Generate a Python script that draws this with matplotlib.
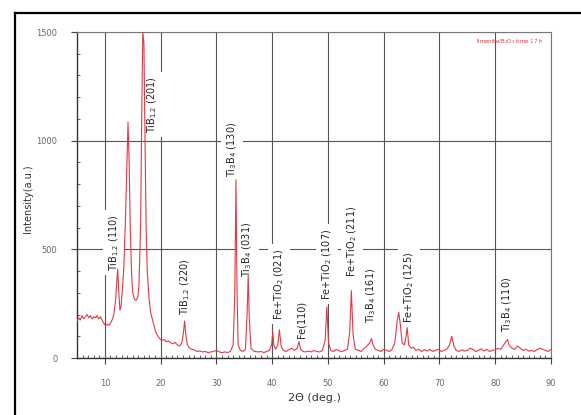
import numpy as np
import matplotlib
matplotlib.use('Agg')
from matplotlib import pyplot as plt
from matplotlib.lines import Line2D
from matplotlib.ticker import MultipleLocator

# 2theta / intensity
two_theta = [5.0, 5.3, 5.6, 5.9, 6.2, 6.5, 6.8, 7.1, 7.4, 7.7, 8.0, 8.3, 8.6, 8.9, 9.2, 9.5, 9.8,
             10.1, 10.4, 10.7, 11.0, 11.3, 11.6, 11.9, 12.1, 12.3, 12.5, 12.7, 12.9, 13.1, 13.4,
             13.7, 13.95, 14.15, 14.35, 14.55, 14.8, 15.0, 15.3, 15.6, 15.9, 16.1, 16.4, 16.6,
             16.8, 17.0, 17.2, 17.4, 17.6, 17.9, 18.2, 18.5, 18.8, 19.1, 19.4, 19.8, 20.2, 20.6,
             21.0, 21.4, 21.8, 22.2, 22.6, 23.0, 23.4, 23.8, 24.1, 24.3, 24.5, 24.8, 25.2, 25.6,
             26.0, 26.5, 27.0, 27.5, 28.0, 28.5, 29.0, 29.5, 30.0, 30.5, 31.0, 31.5, 32.0, 32.5,
             33.0, 33.3, 33.5, 33.7, 33.9, 34.3, 34.8, 35.2, 35.5, 35.7, 35.9, 36.2, 36.8, 37.5,
             38.0, 38.5, 39.0, 39.5, 39.9, 40.1, 40.3, 40.6, 41.0, 41.3, 41.6, 42.0, 42.5, 43.0,
             43.5, 44.0, 44.5, 44.8, 45.1, 45.5, 46.0, 46.5, 47.0, 47.5, 48.0, 48.5, 49.0, 49.5,
             49.8, 50.1, 50.5, 51.0, 51.5, 52.0, 52.5, 53.0, 53.5, 53.9, 54.2, 54.5, 54.9, 55.5,
             56.0, 56.5, 57.0, 57.5, 57.8, 58.1, 58.5, 59.0, 59.5, 60.0, 60.5, 61.0, 61.5, 62.0,
             62.4, 62.7, 63.0, 63.3, 63.7, 64.0, 64.2, 64.5, 64.9, 65.3, 65.8, 66.3, 66.8, 67.3,
             67.8, 68.3, 68.8, 69.3, 69.8, 70.3, 70.8, 71.3, 71.8, 72.2, 72.6, 73.0, 73.5, 74.0,
             74.5, 75.0, 75.5, 76.0, 76.5, 77.0, 77.5, 78.0, 78.5, 79.0, 79.5, 80.0, 80.5, 81.0,
             81.5, 81.9, 82.2, 82.5, 83.0, 83.5, 84.0, 84.5, 85.0, 85.5, 86.0, 86.5, 87.0, 87.5,
             88.0, 88.5, 89.0, 89.5, 90.0]
intensity = [170, 185, 175, 195, 180, 190, 200, 185, 195, 180, 190, 185, 195, 180, 190, 175, 160,
             150, 155, 150, 160, 175, 200, 260, 340, 410, 300, 220, 240, 300, 420,
             650, 900, 1085, 900, 600, 380, 300, 270, 265, 280, 330, 600, 1100,
             1500, 1450, 1000, 600, 400, 280, 210, 180, 150, 120, 105, 90, 80, 85,
             75, 78, 70, 65, 72, 60, 55, 70, 120, 170, 110, 60, 45, 40,
             38, 30, 32, 28, 30, 25, 28, 30, 35, 28, 25, 28, 25, 30,
             60, 300, 820, 300, 60, 35, 30, 40, 200, 380, 180, 45, 30, 28,
             30, 25, 30, 35, 60, 120, 60, 40, 60, 130, 55, 35, 30, 38,
             45, 35, 45, 75, 40, 30, 28, 32, 28, 35, 30, 28, 35, 80,
             235, 70, 35, 30, 40, 33, 30, 35, 40, 120, 310, 110, 40, 35,
             30, 45, 55, 70, 90, 60, 40, 35, 30, 40, 35, 30, 40, 70,
             170, 210, 150, 70, 60, 100, 140, 60, 45, 50, 35, 40, 30, 38,
             32, 40, 30, 35, 40, 30, 35, 40, 60, 100, 55, 35, 30, 38,
             32, 35, 45, 40, 30, 35, 42, 32, 40, 30, 35, 38, 45, 40,
             60, 75, 85, 60, 45, 40, 55, 45, 35, 40, 32, 35, 30, 38,
             45, 40, 35, 30, 40]

# peak labels: text, 2theta, bottom of label (intensity units)
peak_text = ['TiB$_{1.2}$ (110)', 'TiB$_{1.2}$ (201)', 'TiB$_{1.2}$ (220)', 'Ti$_3$B$_4$ (130)',
             'Ti$_3$B$_4$ (031)', 'Fe+TiO$_2$ (021)', 'Fe(110)', 'Fe+TiO$_2$ (107)',
             'Fe+TiO$_2$ (211)', 'Ti$_3$B$_4$ (161)', 'Fe+TiO$_2$ (125)', 'Ti$_3$B$_4$ (110)']
peak_x = [11.6, 18.4, 24.4, 32.8, 35.6, 41.3, 45.2, 49.8, 54.3, 57.8, 64.6, 82.2]
peak_y = [400, 1035, 200, 835, 375, 175, 92, 267, 375, 160, 160, 120]

fig = plt.figure(figsize=(5.81, 4.15), dpi=100)
ax = fig.add_axes([77/581, 1-358/415, 474/581, 326/415])

ax.plot(two_theta, intensity, color='#e23a44', lw=0.8, zorder=3)

for t, x, y in zip(peak_text, peak_x, peak_y):
    ax.text(x, y, t, rotation=90, ha='center', va='bottom', fontsize=7, color='#222222',
            bbox=dict(facecolor='white', edgecolor='none', pad=3), zorder=2)

ax.set_xlim(5, 90)
ax.set_ylim(0, 1500)
ax.xaxis.set_major_locator(MultipleLocator(10))
ax.xaxis.set_minor_locator(MultipleLocator(1))
ax.yaxis.set_major_locator(MultipleLocator(500))
ax.yaxis.set_minor_locator(MultipleLocator(100))
ax.tick_params(which='major', direction='out', length=4, color='#444444',
               labelsize=6, labelcolor='#666666')
ax.tick_params(axis='y', which='major', pad=10)
ax.tick_params(axis='x', which='major', pad=11)
ax.tick_params(which='minor', direction='in', length=2.5, color='#444444')
ax.grid(True, which='major', color='#555555', lw=0.8, zorder=0)
ax.set_axisbelow(True)
for s in ['left', 'bottom']:
    ax.spines[s].set_color('#333333')
    ax.spines[s].set_linewidth(1.0)
for s in ['top', 'right']:
    ax.spines[s].set_color('#777777')
    ax.spines[s].set_linewidth(0.8)

ax.set_ylabel('Intensity(a.u.)', fontsize=7, color='#333333')
ax.yaxis.set_label_coords(-(77-33)/474, 0.49)
ax.set_xlabel('2Θ (deg.)', fontsize=8, color='#333333')
ax.xaxis.set_label_coords(0.5, -(393-358)/326)

ax.text(0.985, 0.985, 'Ilmenite/B$_2$O$_3$ time 17 h', transform=ax.transAxes, ha='right', va='top',
        fontsize=4, color='#e23a44')

# outer black frame
fig.add_artist(Line2D([15/581, 1.0], [1-13/415, 1-13/415], transform=fig.transFigure,
                      color='black', lw=1.6))
fig.add_artist(Line2D([15/581, 15/581], [0.0, 1-13/415], transform=fig.transFigure,
                      color='black', lw=1.6))

fig.savefig('out.png', dpi=100)
